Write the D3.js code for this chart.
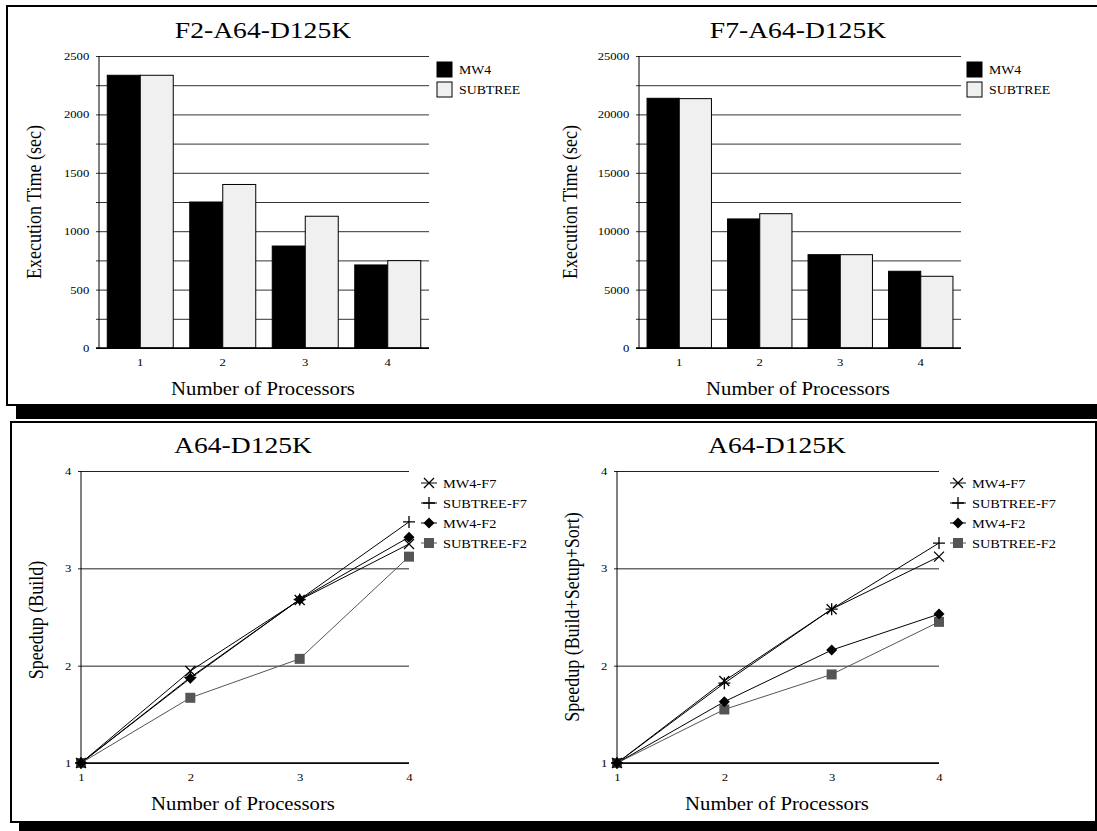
<!DOCTYPE html>
<html><head><meta charset="utf-8">
<script src="https://cdn.jsdelivr.net/npm/d3@7"></script>
<style>body{margin:0;background:#fff}svg{display:block}text{font-family:"Liberation Serif","Times New Roman",serif;fill:#000}</style>
</head><body><svg id="c" width="1097" height="831"></svg>
<script>
// ---- data ----
const processors = [1, 2, 3, 4];
const barSeries = ["MW4", "SUBTREE"];
const f2MW4 = [2335, 1250, 873, 711];
const f2SUBTREE = [2335, 1400, 1128, 748];
const f7MW4 = [21380, 11050, 7990, 6570];
const f7SUBTREE = [21350, 11500, 7990, 6140];
const f2Ticks = [0, 500, 1000, 1500, 2000, 2500];
const f7Ticks = [0, 5000, 10000, 15000, 20000, 25000];
const lineSeries = ["MW4-F7", "SUBTREE-F7", "MW4-F2", "SUBTREE-F2"];
const buildMW4F7 = [1, 1.945, 2.675, 3.25];
const buildSUBF7 = [1, 1.88, 2.68, 3.477];
const buildMW4F2 = [1, 1.87, 2.68, 3.32];
const buildSUBF2 = [1, 1.67, 2.07, 3.12];
const totalMW4F7 = [1, 1.843, 2.58, 3.12];
const totalSUBF7 = [1, 1.82, 2.58, 3.26];
const totalMW4F2 = [1, 1.63, 2.16, 2.53];
const totalSUBF2 = [1, 1.55, 1.91, 2.45];
const speedTicks = [1, 2, 3, 4];

const SX = 1.15;
const svg = d3.select("#c");

function txt(g, x, y, s, size, anchor) {
  return g.append("text").attr("transform", `translate(${x},${y}) scale(${SX},1)`)
    .attr("font-size", size).attr("text-anchor", anchor || "middle").text(s);
}
function vtxt(g, x, y, s, size) {
  return g.append("text").attr("transform", `translate(${x},${y}) scale(${SX},1) rotate(-90)`)
    .attr("font-size", size).attr("text-anchor", "middle").text(s);
}

// ---- frames ----
svg.append("rect").attr("x", 16).attr("y", 406).attr("width", 1100).attr("height", 13).attr("fill", "#000");
svg.append("path").attr("d", "M1110,6H7V405H1110").attr("fill", "none").attr("stroke", "#000").attr("stroke-width", 2);
svg.append("rect").attr("x", 19).attr("y", 823).attr("width", 1100).attr("height", 10).attr("fill", "#000");
svg.append("rect").attr("x", 11).attr("y", 422).attr("width", 1085).attr("height", 400).attr("fill", "none").attr("stroke", "#000").attr("stroke-width", 2);

// ---- bar charts ----
function barChart(o) {
  const g = svg.append("g");
  const x = d3.scaleBand().domain(processors).range([o.x0, o.x1]).paddingInner(0.2).paddingOuter(0.1);
  const xs = d3.scaleBand().domain(barSeries).range([0, x.bandwidth()]);
  const max = o.ticks[o.ticks.length - 1];
  const y = d3.scaleLinear().domain([0, max]).range([o.yb, o.yt]);
  const step = o.ticks[1] / 2;
  const gridVals = d3.range(0, max + step / 2, step);
  const ax = g.append("g").attr("transform", `translate(${o.x0},0)`)
    .call(d3.axisLeft(y).tickValues(gridVals).tickSize(0)
      .tickFormat(d => o.ticks.includes(d) ? d : ""));
  ax.select(".domain").remove();
  ax.selectAll(".tick line").attr("x1", -3).attr("x2", o.x1 - o.x0)
    .attr("stroke", (d) => d === 0 ? "#000" : "#333").attr("stroke-width", 1);
  ax.selectAll(".tick text").attr("x", -8.5).attr("transform", `scale(${SX},1)`)
    .attr("font-size", 11).attr("font-family", '"Liberation Serif",serif');
  // bars
  const data = [];
  processors.forEach((p, i) => {
    data.push({ p, s: "MW4", v: o.mw4[i] });
    data.push({ p, s: "SUBTREE", v: o.sub[i] });
  });
  g.selectAll("rect.bar").data(data).join("rect").attr("class", "bar")
    .attr("x", d => x(d.p) + xs(d.s)).attr("width", xs.bandwidth())
    .attr("y", d => y(d.v)).attr("height", d => y(0) - y(d.v))
    .attr("fill", d => d.s === "MW4" ? "#000" : "#f0f0f0")
    .attr("stroke", "#000").attr("stroke-width", 1);
  // axes lines
  g.append("line").attr("x1", o.x0).attr("x2", o.x0).attr("y1", o.yt).attr("y2", o.yb).attr("stroke", "#000");
  g.append("line").attr("x1", o.x0 - 3).attr("x2", o.x1).attr("y1", o.yb).attr("y2", o.yb).attr("stroke", "#000").attr("stroke-width", 1.5);
  const bx = g.append("g").attr("transform", `translate(0,${o.yb})`)
    .call(d3.axisBottom(x).tickSize(0).tickPadding(10));
  bx.select(".domain").remove();
  bx.selectAll(".tick text").attr("transform", `scale(${SX},1)`).attr("font-size", 11)
    .attr("font-family", '"Liberation Serif",serif');
  txt(g, o.tx, 38, o.title, 24);
  txt(g, o.tx, 395, "Number of Processors", 18);
  vtxt(g, o.ytx, 202, "Execution Time (sec)", 18);
  // legend
  barSeries.forEach((s, i) => {
    g.append("rect").attr("x", o.lx).attr("y", 62 + i * 20).attr("width", 15).attr("height", 15)
      .attr("fill", s === "MW4" ? "#000" : "#f0f0f0").attr("stroke", "#000");
    txt(g, o.lx + 22, 74 + i * 20, s, 12, "start");
  });
}
barChart({ x0: 99, x1: 429, yt: 56, yb: 348, ticks: f2Ticks, mw4: f2MW4, sub: f2SUBTREE,
  title: "F2-A64-D125K", tx: 263, ytx: 41, lx: 437 });
barChart({ x0: 639, x1: 961, yt: 56, yb: 348, ticks: f7Ticks, mw4: f7MW4, sub: f7SUBTREE,
  title: "F7-A64-D125K", tx: 798, ytx: 577, lx: 967 });

// ---- line charts ----
function marker(g, type, cx, cy, color) {
  if (type === 0) {
    g.append("path").attr("d", `M${cx-5},${cy-5}L${cx+5},${cy+5}M${cx-5},${cy+5}L${cx+5},${cy-5}`)
      .attr("stroke", color).attr("stroke-width", 1.3).attr("fill", "none");
  } else if (type === 1) {
    g.append("path").attr("d", `M${cx-6},${cy}H${cx+6}M${cx},${cy-6}V${cy+6}`)
      .attr("stroke", color).attr("stroke-width", 1.3).attr("fill", "none");
  } else if (type === 2) {
    g.append("path").attr("d", `M${cx},${cy-5.5}L${cx+5.5},${cy}L${cx},${cy+5.5}L${cx-5.5},${cy}Z`).attr("fill", color);
  } else {
    g.append("rect").attr("x", cx - 5).attr("y", cy - 5).attr("width", 10).attr("height", 10).attr("fill", color);
  }
}
const lineColors = ["#000", "#000", "#000", "#555"];
function lineChart(o) {
  const g = svg.append("g");
  const x = d3.scaleLinear().domain([1, 4]).range([o.x0, o.x1]);
  const y = d3.scaleLinear().domain([1, 4]).range([o.yb, o.yt]);
  const ax = g.append("g").attr("transform", `translate(${o.x0},0)`)
    .call(d3.axisLeft(y).tickValues(speedTicks).tickSize(0).tickFormat(d3.format("d")));
  ax.select(".domain").remove();
  ax.selectAll(".tick line").attr("x1", -3).attr("x2", o.x1 - o.x0).attr("stroke", "#222");
  ax.selectAll(".tick text").attr("x", -8.5).attr("transform", `scale(${SX},1)`)
    .attr("font-size", 11).attr("font-family", '"Liberation Serif",serif');
  g.append("line").attr("x1", o.x0).attr("x2", o.x0).attr("y1", o.yt).attr("y2", o.yb).attr("stroke", "#000");
  g.append("line").attr("x1", o.x0 - 3).attr("x2", o.x1).attr("y1", o.yb).attr("y2", o.yb).attr("stroke", "#000").attr("stroke-width", 1.5);
  const bx = g.append("g").attr("transform", `translate(0,${o.yb})`)
    .call(d3.axisBottom(x).tickValues(processors).tickSize(0).tickPadding(10).tickFormat(d3.format("d")));
  bx.select(".domain").remove();
  bx.selectAll(".tick text").attr("transform", `scale(${SX},1)`).attr("font-size", 11)
    .attr("font-family", '"Liberation Serif",serif');
  const line = d3.line().x((d, i) => x(processors[i])).y(d => y(d));
  // draw series in reverse so black lines on top
  [3, 2, 1, 0].forEach(k => {
    g.append("path").attr("d", line(o.series[k])).attr("fill", "none")
      .attr("stroke", lineColors[k]).attr("stroke-width", 1);
  });
  [3, 2, 1, 0].forEach(k => {
    o.series[k].forEach((v, i) => marker(g, k, x(processors[i]), y(v), lineColors[k]));
  });
  txt(g, o.tx, 453, "A64-D125K", 24);
  txt(g, o.tx, 810, "Number of Processors", 18);
  vtxt(g, o.ytx, o.ytc, o.ytitle, 18);
  lineSeries.forEach((s, i) => {
    const ly = 483 + i * 20;
    g.append("line").attr("x1", o.lx - 8).attr("x2", o.lx + 8).attr("y1", ly).attr("y2", ly)
      .attr("stroke", lineColors[i]).attr("stroke-width", 1);
    marker(g, i, o.lx, ly, lineColors[i]);
    txt(g, o.lx + 14, ly + 4.5, s, 12.5, "start");
  });
}
lineChart({ x0: 81, x1: 409, yt: 471, yb: 763, series: [buildMW4F7, buildSUBF7, buildMW4F2, buildSUBF2],
  tx: 243, ytx: 43, ytc: 620, ytitle: "Speedup (Build)", lx: 429 });
lineChart({ x0: 617, x1: 939, yt: 471, yb: 763, series: [totalMW4F7, totalSUBF7, totalMW4F2, totalSUBF2],
  tx: 777, ytx: 579, ytc: 617, ytitle: "Speedup (Build+Setup+Sort)", lx: 958 });
</script></body></html>
